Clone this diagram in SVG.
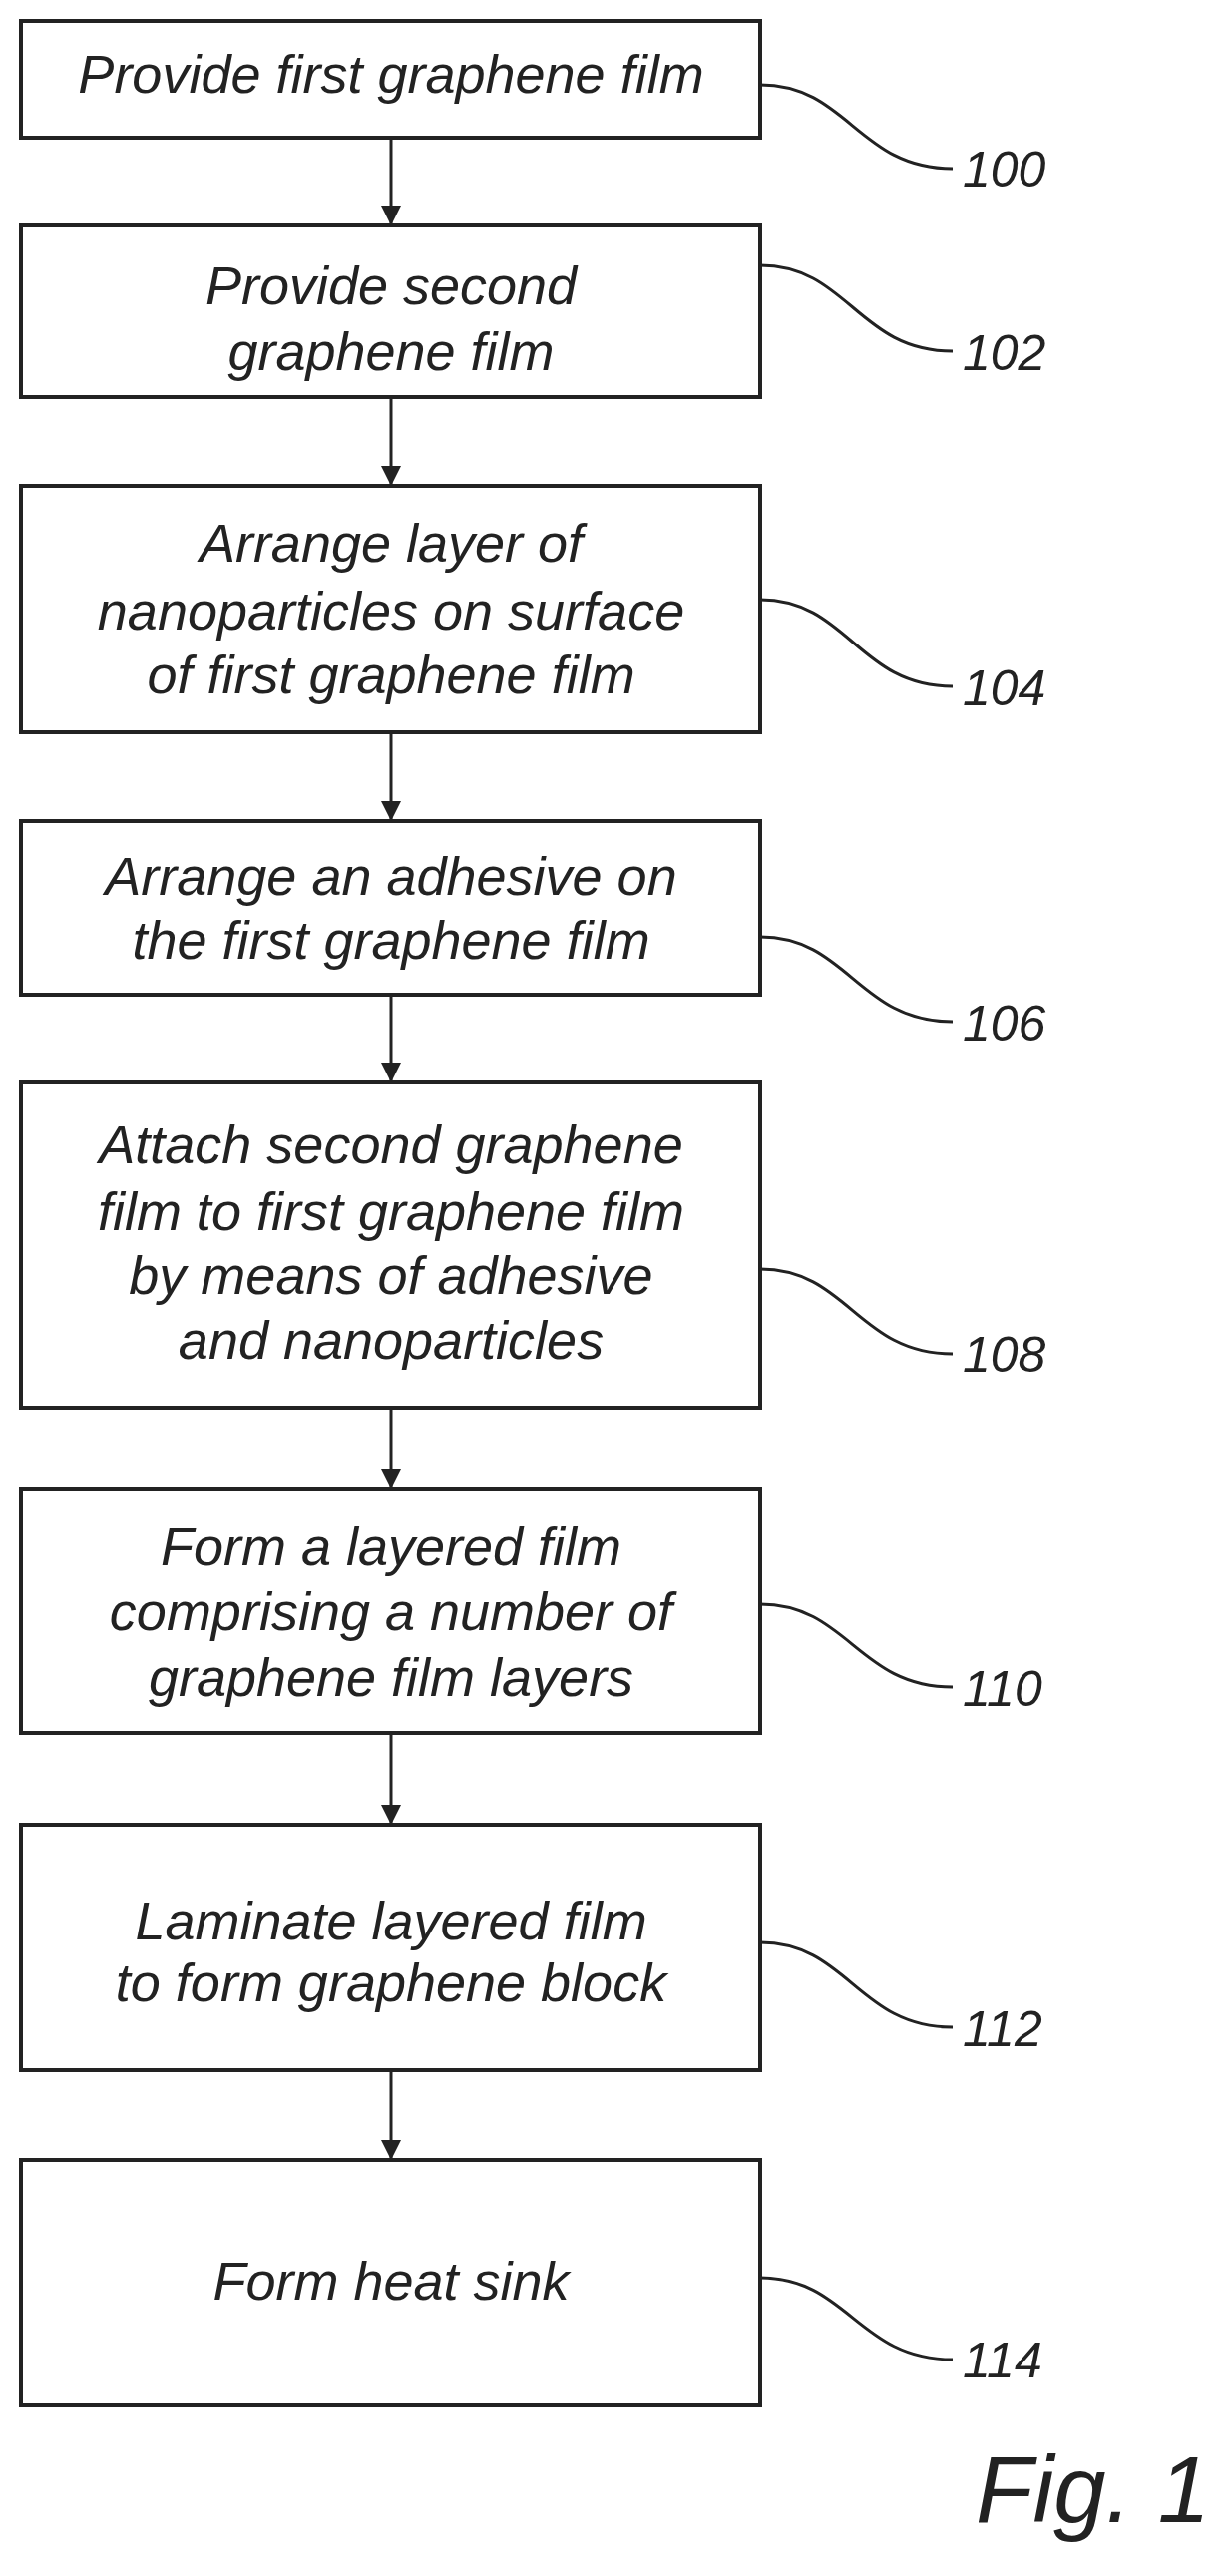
<svg xmlns="http://www.w3.org/2000/svg" width="1229" height="2582" viewBox="0 0 1229 2582">
<style>
.b{fill:#fff;stroke:#222;stroke-width:4}
.t{font-family:"Liberation Sans",Arial,sans-serif;font-style:italic;font-size:54px;fill:#222;text-anchor:middle}
.n{font-family:"Liberation Sans",Arial,sans-serif;font-style:italic;font-size:50px;fill:#222}
.c{fill:none;stroke:#222;stroke-width:3}
</style>
<defs>
<marker id="ah" viewBox="0 0 10 10" markerWidth="20" markerHeight="26" refX="10" refY="5" orient="auto" markerUnits="userSpaceOnUse"><path d="M0,0 L10,5 L0,10 Z" fill="#222"/></marker></defs>
<rect width="1229" height="2582" fill="#fff"/>
<g id="n100"><rect class="b" x="21" y="21" width="741" height="117"/><text class="t" x="392" y="93">Provide first graphene film</text></g>
<g id="n102"><rect class="b" x="21" y="226" width="741" height="172"/><text class="t" x="392" y="305">Provide second</text><text class="t" x="392" y="371">graphene film</text></g>
<g id="n104"><rect class="b" x="21" y="487" width="741" height="247"/><text class="t" x="392" y="563">Arrange layer of</text><text class="t" x="392" y="631">nanoparticles on surface</text><text class="t" x="392" y="695">of first graphene film</text></g>
<g id="n106"><rect class="b" x="21" y="823" width="741" height="174"/><text class="t" x="392" y="897">Arrange an adhesive on</text><text class="t" x="392" y="961">the first graphene film</text></g>
<g id="n108"><rect class="b" x="21" y="1085" width="741" height="326"/><text class="t" x="392" y="1166">Attach second graphene</text><text class="t" x="392" y="1233">film to first graphene film</text><text class="t" x="392" y="1297">by means of adhesive</text><text class="t" x="392" y="1362">and nanoparticles</text></g>
<g id="n110"><rect class="b" x="21" y="1492" width="741" height="245"/><text class="t" x="392" y="1569">Form a layered film</text><text class="t" x="392" y="1634">comprising a number of</text><text class="t" x="392" y="1700">graphene film layers</text></g>
<g id="n112"><rect class="b" x="21" y="1829" width="741" height="246"/><text class="t" x="392" y="1944">Laminate layered film</text><text class="t" x="392" y="2006">to form graphene block</text></g>
<g id="n114"><rect class="b" x="21" y="2165" width="741" height="246"/><text class="t" x="392" y="2305">Form heat sink</text></g>
<g id="connectors">
<path class="c" d="M392,138 V226" marker-end="url(#ah)"/>
<path class="c" d="M392,398 V487" marker-end="url(#ah)"/>
<path class="c" d="M392,734 V823" marker-end="url(#ah)"/>
<path class="c" d="M392,997 V1085" marker-end="url(#ah)"/>
<path class="c" d="M392,1411 V1492" marker-end="url(#ah)"/>
<path class="c" d="M392,1737 V1829" marker-end="url(#ah)"/>
<path class="c" d="M392,2075 V2165" marker-end="url(#ah)"/>
<path class="c" d="M762,85 C850,85 860,169 955,169"/>
<path class="c" d="M762,266 C850,266 860,352 955,352"/>
<path class="c" d="M762,601 C850,601 860,688 955,688"/>
<path class="c" d="M762,939 C850,939 860,1024 955,1024"/>
<path class="c" d="M762,1272 C850,1272 860,1357 955,1357"/>
<path class="c" d="M762,1608 C850,1608 860,1691 955,1691"/>
<path class="c" d="M762,1947 C850,1947 860,2032 955,2032"/>
<path class="c" d="M762,2283 C850,2283 860,2365 955,2365"/>
</g>
<text class="n" x="965" y="187">100</text>
<text class="n" x="965" y="371">102</text>
<text class="n" x="965" y="707">104</text>
<text class="n" x="965" y="1043">106</text>
<text class="n" x="965" y="1375">108</text>
<text class="n" x="965" y="1710">110</text>
<text class="n" x="965" y="2051">112</text>
<text class="n" x="965" y="2383">114</text>
<text class="n" x="978" y="2528" style="font-size:94px">Fig. 1</text>
</svg>
